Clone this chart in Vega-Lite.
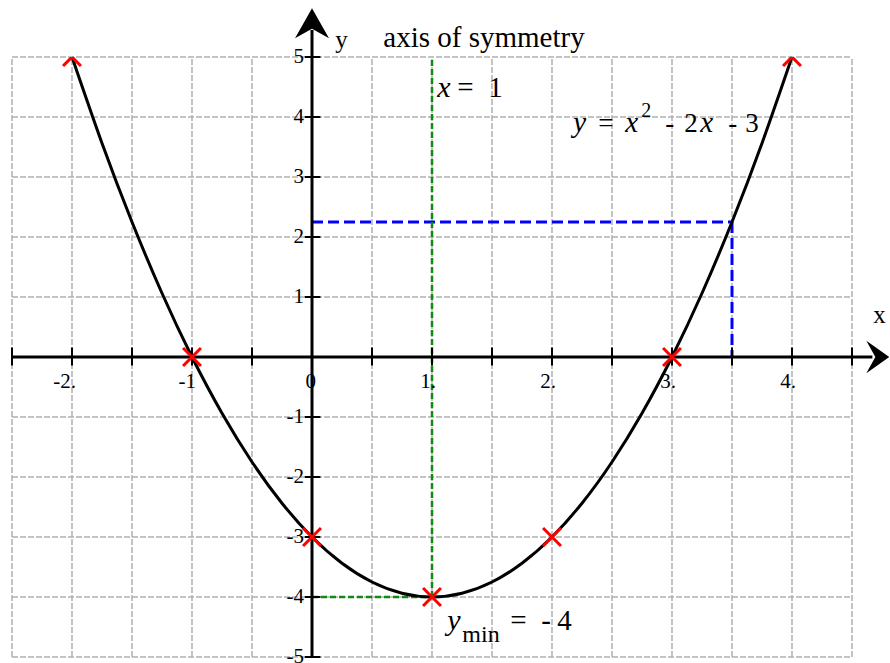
{
  "$schema": "https://vega.github.io/schema/vega-lite/v6.json",
  "width": 840,
  "height": 600,
  "autosize": {"type": "none"},
  "padding": {"left": 12, "top": 57, "right": 38, "bottom": 6},
  "background": "white",
  "config": {
    "view": {"stroke": null},
    "text": {"font": "Liberation Serif"}
  },
  "datasets": {
    "gridX": [
      {"x": -2.5}, {"x": -2}, {"x": -1.5}, {"x": -1}, {"x": -0.5}, {"x": 0}, {"x": 0.5}, {"x": 1},
      {"x": 1.5}, {"x": 2}, {"x": 2.5}, {"x": 3}, {"x": 3.5}, {"x": 4}, {"x": 4.5}
    ],
    "gridY": [
      {"y": -5}, {"y": -4}, {"y": -3}, {"y": -2}, {"y": -1}, {"y": 0}, {"y": 1}, {"y": 2}, {"y": 3}, {"y": 4}, {"y": 5}
    ],
    "curve": [
      {"x": -2, "y": 5}, {"x": -1.75, "y": 3.5625}, {"x": -1.5, "y": 2.25}, {"x": -1.25, "y": 1.0625},
      {"x": -1, "y": 0}, {"x": -0.75, "y": -0.9375}, {"x": -0.5, "y": -1.75}, {"x": -0.25, "y": -2.4375},
      {"x": 0, "y": -3}, {"x": 0.25, "y": -3.4375}, {"x": 0.5, "y": -3.75}, {"x": 0.75, "y": -3.9375},
      {"x": 1, "y": -4}, {"x": 1.25, "y": -3.9375}, {"x": 1.5, "y": -3.75}, {"x": 1.75, "y": -3.4375},
      {"x": 2, "y": -3}, {"x": 2.25, "y": -2.4375}, {"x": 2.5, "y": -1.75}, {"x": 2.75, "y": -0.9375},
      {"x": 3, "y": 0}, {"x": 3.25, "y": 1.0625}, {"x": 3.5, "y": 2.25}, {"x": 3.75, "y": 3.5625}, {"x": 4, "y": 5}
    ],
    "crosses": [
      {"x": -2, "y": 5}, {"x": -1, "y": 0}, {"x": 0, "y": -3}, {"x": 1, "y": -4},
      {"x": 2, "y": -3}, {"x": 3, "y": 0}, {"x": 4, "y": 5}
    ],
    "blue": [
      {"x": 0, "y": 2.25, "x2": 3.5, "y2": 2.25},
      {"x": 3.5, "y": 2.25, "x2": 3.5, "y2": 0}
    ],
    "green": [
      {"x": 1, "y": -4, "x2": 1, "y2": 5},
      {"x": 0, "y": -4, "x2": 1, "y2": -4}
    ],
    "axes": [
      {"x": -2.5, "y": 0, "x2": 4.67, "y2": 0},
      {"x": 0, "y": -5, "x2": 0, "y2": 5.45}
    ],
    "xarrow": [{"x": 4.669, "y": 0}],
    "yarrow": [{"x": 0, "y": 5.528}],
    "xticks": [
      {"x": -2.5}, {"x": -2}, {"x": -1.5}, {"x": -1}, {"x": -0.5}, {"x": 0.5}, {"x": 1}, {"x": 1.5},
      {"x": 2}, {"x": 2.5}, {"x": 3}, {"x": 3.5}, {"x": 4}, {"x": 4.5}
    ],
    "yticks": [
      {"y": 5}, {"y": 4}, {"y": 3}, {"y": 2}, {"y": 1}, {"y": -1}, {"y": -2}, {"y": -3}, {"y": -4}, {"y": -5}
    ],
    "xlabels": [
      {"x": -2, "label": "-2."}, {"x": -1, "label": "-1"}, {"x": 0, "label": "0"}, {"x": 1, "label": "1."},
      {"x": 2, "label": "2."}, {"x": 3, "label": "3."}, {"x": 4, "label": "4."}
    ],
    "ylabels": [
      {"y": 5, "label": "5"}, {"y": 4, "label": "4"}, {"y": 3, "label": "3"}, {"y": 2, "label": "2"}, {"y": 1, "label": "1"},
      {"y": -1, "label": "-1"}, {"y": -2, "label": "-2"}, {"y": -3, "label": "-3"}, {"y": -4, "label": "-4"}, {"y": -5, "label": "-5"}
    ],
    "uprightLarge": [
      {"x": 0.594, "y": 5.162, "t": "axis of symmetry"},
      {"x": 1.211, "y": 4.328, "t": "="},
      {"x": 1.469, "y": 4.328, "t": "1"},
      {"x": 1.653, "y": -4.555, "t": "="},
      {"x": 1.911, "y": -4.555, "t": "-"},
      {"x": 2.044, "y": -4.555, "t": "4"}
    ],
    "uprightMed": [
      {"x": 2.386, "y": 3.745, "t": "="},
      {"x": 2.944, "y": 3.745, "t": "-"},
      {"x": 3.103, "y": 3.745, "t": "2"},
      {"x": 3.469, "y": 3.745, "t": "-"},
      {"x": 3.611, "y": 3.745, "t": "3"}
    ],
    "axisLetters": [
      {"x": 0.194, "y": 5.145, "t": "y"},
      {"x": 4.678, "y": 0.562, "t": "x"}
    ],
    "italicLarge": [
      {"x": 1.044, "y": 4.328, "t": "x"},
      {"x": 1.128, "y": -4.555, "t": "y"}
    ],
    "italicMed": [
      {"x": 2.178, "y": 3.745, "t": "y"},
      {"x": 2.611, "y": 3.745, "t": "x"},
      {"x": 3.236, "y": 3.745, "t": "x"}
    ],
    "superscript": [
      {"x": 2.744, "y": 3.995, "t": "2"}
    ],
    "subscript": [
      {"x": 1.253, "y": -4.755, "t": "min"}
    ]
  },
  "layer": [
    {
      "data": {"name": "gridX"},
      "mark": {"type": "rule", "color": "#b0b0b0", "strokeWidth": 1.5, "strokeDash": [6, 2]},
      "encoding": {
        "x": {"field": "x", "type": "quantitative", "scale": {"domain": [-2.5, 4.5], "nice": false, "zero": false}, "axis": null},
        "y": {"datum": -5, "scale": {"domain": [-5, 5], "nice": false, "zero": false}, "axis": null},
        "y2": {"datum": 5}
      }
    },
    {
      "data": {"name": "gridY"},
      "mark": {"type": "rule", "color": "#b0b0b0", "strokeWidth": 1.5, "strokeDash": [6, 2]},
      "encoding": {
        "y": {"field": "y", "type": "quantitative", "scale": {"domain": [-5, 5]}, "axis": null},
        "x": {"datum": -2.5, "scale": {"domain": [-2.5, 4.5]}, "axis": null},
        "x2": {"datum": 4.5}
      }
    },
    {
      "data": {"name": "blue"},
      "mark": {"type": "rule", "color": "#0000ff", "strokeWidth": 3, "strokeDash": [11, 5]},
      "encoding": {
        "x": {"field": "x", "type": "quantitative", "scale": {"domain": [-2.5, 4.5]}, "axis": null},
        "y": {"field": "y", "type": "quantitative", "scale": {"domain": [-5, 5]}, "axis": null},
        "x2": {"field": "x2"},
        "y2": {"field": "y2"}
      }
    },
    {
      "data": {"name": "green"},
      "mark": {"type": "rule", "color": "#108a10", "strokeWidth": 2.5, "strokeDash": [6, 3]},
      "encoding": {
        "x": {"field": "x", "type": "quantitative", "scale": {"domain": [-2.5, 4.5]}, "axis": null},
        "y": {"field": "y", "type": "quantitative", "scale": {"domain": [-5, 5]}, "axis": null},
        "x2": {"field": "x2"},
        "y2": {"field": "y2"}
      }
    },
    {
      "data": {"name": "axes"},
      "mark": {"type": "rule", "color": "black", "strokeWidth": 3},
      "encoding": {
        "x": {"field": "x", "type": "quantitative", "scale": {"domain": [-2.5, 4.5]}, "axis": null},
        "y": {"field": "y", "type": "quantitative", "scale": {"domain": [-5, 5]}, "axis": null},
        "x2": {"field": "x2"},
        "y2": {"field": "y2"}
      }
    },
    {
      "data": {"name": "xticks"},
      "mark": {"type": "rule", "color": "black", "strokeWidth": 2},
      "encoding": {
        "x": {"field": "x", "type": "quantitative", "scale": {"domain": [-2.5, 4.5]}, "axis": null},
        "y": {"datum": -0.14, "scale": {"domain": [-5, 5]}, "axis": null},
        "y2": {"datum": 0.16}
      }
    },
    {
      "data": {"name": "yticks"},
      "mark": {"type": "rule", "color": "black", "strokeWidth": 2},
      "encoding": {
        "y": {"field": "y", "type": "quantitative", "scale": {"domain": [-5, 5]}, "axis": null},
        "x": {"datum": -0.06, "scale": {"domain": [-2.5, 4.5]}, "axis": null},
        "x2": {"datum": 0.07}
      }
    },
    {
      "data": {"name": "xarrow"},
      "mark": {"type": "point", "shape": "M1,0L-0.35,-0.95L0.18,0L-0.35,0.95Z", "filled": true, "color": "black", "opacity": 1, "size": 1156},
      "encoding": {
        "x": {"field": "x", "type": "quantitative", "scale": {"domain": [-2.5, 4.5]}, "axis": null},
        "y": {"field": "y", "type": "quantitative", "scale": {"domain": [-5, 5]}, "axis": null}
      }
    },
    {
      "data": {"name": "yarrow"},
      "mark": {"type": "point", "shape": "M0,-1L1,0.76L0,0.2L-1,0.76Z", "filled": true, "color": "black", "opacity": 1, "size": 1156},
      "encoding": {
        "x": {"field": "x", "type": "quantitative", "scale": {"domain": [-2.5, 4.5]}, "axis": null},
        "y": {"field": "y", "type": "quantitative", "scale": {"domain": [-5, 5]}, "axis": null}
      }
    },
    {
      "data": {"name": "curve"},
      "mark": {"type": "line", "color": "black", "strokeWidth": 3, "interpolate": "natural"},
      "encoding": {
        "x": {"field": "x", "type": "quantitative", "scale": {"domain": [-2.5, 4.5]}, "axis": null},
        "y": {"field": "y", "type": "quantitative", "scale": {"domain": [-5, 5]}, "axis": null}
      }
    },
    {
      "data": {"name": "crosses"},
      "mark": {"type": "point", "shape": "M-1,-1L1,1M1,-1L-1,1", "filled": false, "color": "#ff0000", "strokeWidth": 3, "opacity": 1, "size": 320, "clip": true},
      "encoding": {
        "x": {"field": "x", "type": "quantitative", "scale": {"domain": [-2.5, 4.5]}, "axis": null},
        "y": {"field": "y", "type": "quantitative", "scale": {"domain": [-5, 5]}, "axis": null}
      }
    },
    {
      "data": {"name": "xlabels"},
      "mark": {"type": "text", "font": "Liberation Serif", "align": "right", "baseline": "alphabetic", "dx": 4, "fontSize": 21, "color": "black"},
      "encoding": {
        "x": {"field": "x", "type": "quantitative", "scale": {"domain": [-2.5, 4.5]}, "axis": null},
        "y": {"datum": -0.52, "scale": {"domain": [-5, 5]}, "axis": null},
        "text": {"field": "label"}
      }
    },
    {
      "data": {"name": "ylabels"},
      "mark": {"type": "text", "font": "Liberation Serif", "align": "right", "baseline": "middle", "dx": -8, "fontSize": 21, "color": "black"},
      "encoding": {
        "y": {"field": "y", "type": "quantitative", "scale": {"domain": [-5, 5]}, "axis": null},
        "x": {"datum": 0, "scale": {"domain": [-2.5, 4.5]}, "axis": null},
        "text": {"field": "label"}
      }
    },
    {
      "data": {"name": "uprightLarge"},
      "mark": {"type": "text", "font": "Liberation Serif", "align": "left", "baseline": "alphabetic", "fontSize": 29, "color": "black"},
      "encoding": {
        "x": {"field": "x", "type": "quantitative", "scale": {"domain": [-2.5, 4.5]}, "axis": null},
        "y": {"field": "y", "type": "quantitative", "scale": {"domain": [-5, 5]}, "axis": null},
        "text": {"field": "t"}
      }
    },
    {
      "data": {"name": "uprightMed"},
      "mark": {"type": "text", "font": "Liberation Serif", "align": "left", "baseline": "alphabetic", "fontSize": 27, "color": "black"},
      "encoding": {
        "x": {"field": "x", "type": "quantitative", "scale": {"domain": [-2.5, 4.5]}, "axis": null},
        "y": {"field": "y", "type": "quantitative", "scale": {"domain": [-5, 5]}, "axis": null},
        "text": {"field": "t"}
      }
    },
    {
      "data": {"name": "axisLetters"},
      "mark": {"type": "text", "font": "Liberation Serif", "align": "left", "baseline": "alphabetic", "fontSize": 25, "color": "black"},
      "encoding": {
        "x": {"field": "x", "type": "quantitative", "scale": {"domain": [-2.5, 4.5]}, "axis": null},
        "y": {"field": "y", "type": "quantitative", "scale": {"domain": [-5, 5]}, "axis": null},
        "text": {"field": "t"}
      }
    },
    {
      "data": {"name": "italicLarge"},
      "mark": {"type": "text", "font": "Liberation Serif", "align": "left", "baseline": "alphabetic", "fontSize": 30, "fontStyle": "italic", "color": "black"},
      "encoding": {
        "x": {"field": "x", "type": "quantitative", "scale": {"domain": [-2.5, 4.5]}, "axis": null},
        "y": {"field": "y", "type": "quantitative", "scale": {"domain": [-5, 5]}, "axis": null},
        "text": {"field": "t"}
      }
    },
    {
      "data": {"name": "italicMed"},
      "mark": {"type": "text", "font": "Liberation Serif", "align": "left", "baseline": "alphabetic", "fontSize": 29, "fontStyle": "italic", "color": "black"},
      "encoding": {
        "x": {"field": "x", "type": "quantitative", "scale": {"domain": [-2.5, 4.5]}, "axis": null},
        "y": {"field": "y", "type": "quantitative", "scale": {"domain": [-5, 5]}, "axis": null},
        "text": {"field": "t"}
      }
    },
    {
      "data": {"name": "superscript"},
      "mark": {"type": "text", "font": "Liberation Serif", "align": "left", "baseline": "alphabetic", "fontSize": 20, "color": "black"},
      "encoding": {
        "x": {"field": "x", "type": "quantitative", "scale": {"domain": [-2.5, 4.5]}, "axis": null},
        "y": {"field": "y", "type": "quantitative", "scale": {"domain": [-5, 5]}, "axis": null},
        "text": {"field": "t"}
      }
    },
    {
      "data": {"name": "subscript"},
      "mark": {"type": "text", "font": "Liberation Serif", "align": "left", "baseline": "alphabetic", "fontSize": 24, "color": "black"},
      "encoding": {
        "x": {"field": "x", "type": "quantitative", "scale": {"domain": [-2.5, 4.5]}, "axis": null},
        "y": {"field": "y", "type": "quantitative", "scale": {"domain": [-5, 5]}, "axis": null},
        "text": {"field": "t"}
      }
    }
  ]
}
